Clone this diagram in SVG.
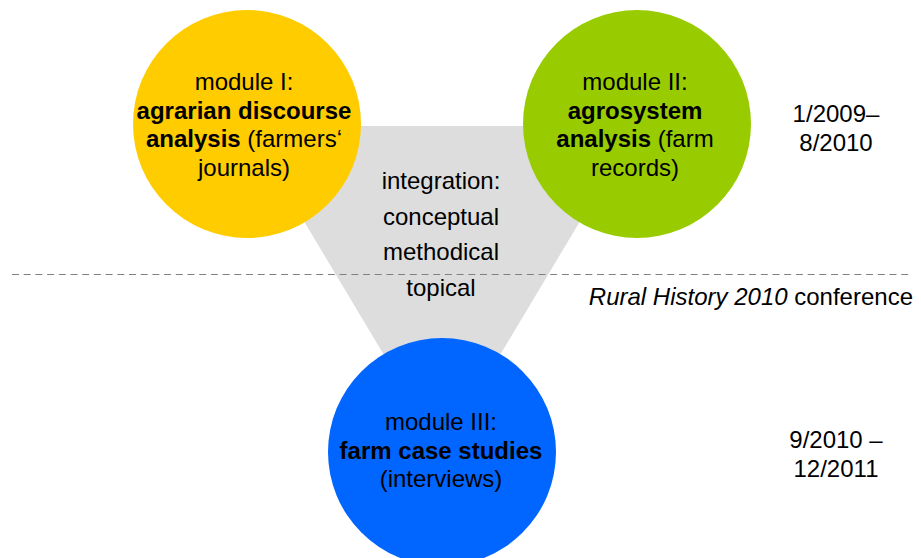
<svg xmlns="http://www.w3.org/2000/svg" width="921" height="558" viewBox="0 0 921 558">
<style>
text{font-family:"Liberation Sans",Arial,sans-serif;font-size:24px;fill:#000;text-anchor:middle}
.b{font-weight:bold}
.i{font-style:italic}
</style>
<rect width="921" height="558" fill="#fff"/>
<g id="connectors">
<polygon id="integration-area" points="247,126 637,126 442,452" fill="#DDDDDD"/>
<line x1="12" y1="274.5" x2="910" y2="274.5" stroke="#808080" stroke-width="1" stroke-dasharray="7,4.7"/>
</g>
<g id="integration">
<text x="441" y="189">integration:</text>
<text x="441" y="225">conceptual</text>
<text x="441" y="260">methodical</text>
<text x="441" y="296">topical</text>
</g>
<g id="module1">
<circle cx="247" cy="124" r="114" fill="#FFCC00"/>
<text x="244" y="90">module I:</text>
<text x="244" y="118.5" class="b">agrarian discourse</text>
<text x="244" y="147"><tspan class="b">analysis</tspan> (farmers‘</text>
<text x="244" y="175.5">journals)</text>
</g>
<g id="module2">
<circle cx="637" cy="124" r="114" fill="#99CC00"/>
<text x="635" y="90">module II:</text>
<text x="635" y="118.5" class="b">agrosystem</text>
<text x="635" y="147"><tspan class="b">analysis</tspan> (farm</text>
<text x="635" y="175.5">records)</text>
</g>
<g id="module3">
<circle cx="442" cy="452" r="114" fill="#0066FF"/>
<text x="441" y="430">module III:</text>
<text x="441" y="458.5" class="b">farm case studies</text>
<text x="441" y="487">(interviews)</text>
</g>
<g id="dates1">
<text x="836" y="122">1/2009–</text>
<text x="836" y="151">8/2010</text>
</g>
<g id="dates2">
<text x="836" y="448">9/2010 –</text>
<text x="836" y="477">12/2011</text>
</g>
<g id="conference">
<text x="913" y="305" style="text-anchor:end"><tspan class="i">Rural History 2010</tspan> conference</text>
</g>
</svg>
